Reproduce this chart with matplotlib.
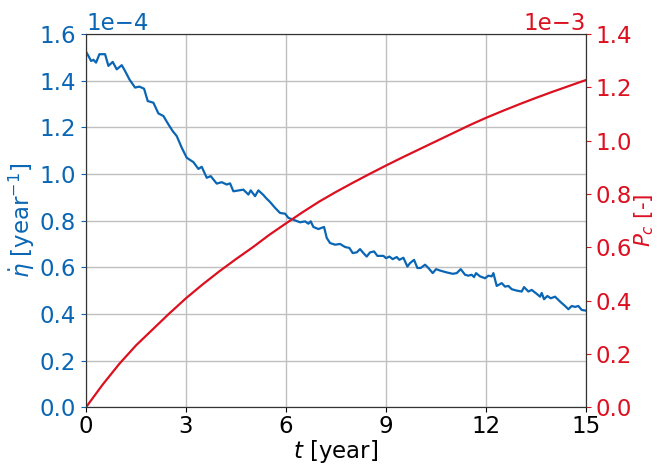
import matplotlib
matplotlib.use("Agg")
import matplotlib.pyplot as plt

# tasa de cambio de eta (en unidades de 1e-4 1/año)
t_eta = [0.00, 0.07, 0.15, 0.22, 0.30, 0.40, 0.57, 0.67, 0.80, 0.92,
         1.07, 1.17, 1.30, 1.47, 1.60, 1.74, 1.85, 2.02, 2.17, 2.32,
         2.47, 2.60, 2.72, 2.87, 3.02, 3.22, 3.37, 3.47, 3.62, 3.74,
         3.92, 4.07, 4.22, 4.32, 4.42, 4.72, 4.87, 4.94, 5.07, 5.17,
         5.32, 5.40, 5.52, 5.67, 5.82, 5.97, 6.07, 6.22, 6.42, 6.57,
         6.67, 6.74, 6.82, 6.97, 7.14, 7.22, 7.32, 7.47, 7.62, 7.77,
         7.90, 8.00, 8.12, 8.22, 8.32, 8.42, 8.52, 8.64, 8.74, 8.92,
         9.00, 9.10, 9.20, 9.32, 9.40, 9.52, 9.64, 9.72, 9.84, 9.94,
         10.04, 10.17, 10.27, 10.40, 10.50, 10.62, 10.82, 11.00, 11.12, 11.24,
         11.37, 11.47, 11.57, 11.64, 11.70, 11.82, 11.97, 12.07, 12.17, 12.22,
         12.32, 12.47, 12.57, 12.67, 12.77, 12.92, 13.07, 13.14, 13.27, 13.37,
         13.52, 13.62, 13.67, 13.74, 13.84, 13.94, 14.07, 14.22, 14.37, 14.47,
         14.57, 14.67, 14.77, 14.87, 15.00]
eta_dot = [1.524, 1.507, 1.485, 1.490, 1.478, 1.514, 1.514, 1.464, 1.481, 1.449,
           1.467, 1.442, 1.406, 1.371, 1.375, 1.366, 1.313, 1.306, 1.260, 1.249,
           1.213, 1.184, 1.163, 1.113, 1.070, 1.051, 1.022, 1.031, 0.984, 0.991,
           0.959, 0.965, 0.955, 0.960, 0.926, 0.933, 0.912, 0.930, 0.905, 0.930,
           0.910, 0.897, 0.880, 0.855, 0.833, 0.830, 0.812, 0.804, 0.793, 0.797,
           0.787, 0.797, 0.773, 0.764, 0.773, 0.726, 0.704, 0.697, 0.700, 0.687,
           0.683, 0.661, 0.664, 0.678, 0.661, 0.646, 0.664, 0.668, 0.649, 0.649,
           0.639, 0.646, 0.635, 0.644, 0.632, 0.641, 0.603, 0.618, 0.632, 0.597,
           0.597, 0.611, 0.597, 0.575, 0.592, 0.586, 0.578, 0.572, 0.575, 0.592,
           0.568, 0.564, 0.568, 0.558, 0.575, 0.561, 0.553, 0.564, 0.561, 0.575,
           0.520, 0.532, 0.517, 0.520, 0.506, 0.500, 0.496, 0.515, 0.496, 0.503,
           0.486, 0.474, 0.490, 0.463, 0.477, 0.467, 0.474, 0.453, 0.434, 0.420,
           0.434, 0.430, 0.434, 0.417, 0.414]

# probabilidad acumulada P_c (en unidades de 1e-3)
t_pc = [0.0, 0.5, 1.0, 1.5, 2.0, 2.5, 3.0, 3.5, 4.0, 4.5, 5.0,
        5.5, 6.0, 6.5, 7.0, 7.5, 8.0, 8.5, 9.0, 9.5, 10.0,
        10.5, 11.0, 11.5, 12.0, 12.5, 13.0, 13.5, 14.0, 14.5, 15.0]
p_c = [0.0, 0.085, 0.163, 0.232, 0.292, 0.352, 0.409, 0.461, 0.510, 0.556, 0.600,
       0.647, 0.690, 0.732, 0.772, 0.808, 0.842, 0.875, 0.907, 0.938, 0.968,
       0.998, 1.028, 1.058, 1.086, 1.112, 1.137, 1.161, 1.184, 1.206, 1.228]

x_ticks = [0, 3, 6, 9, 12, 15]
eta_ticks = [0.0, 0.2, 0.4, 0.6, 0.8, 1.0, 1.2, 1.4, 1.6]
pc_ticks = [0.0, 0.2, 0.4, 0.6, 0.8, 1.0, 1.2, 1.4]

azul = "#0a66b4"
rojo = "#dd1020"

plt.rcParams["font.size"] = 16.5
plt.rcParams["mathtext.fontset"] = "dejavusans"

fig, ax = plt.subplots(figsize=(6.57, 4.68), dpi=100)
fig.subplots_adjust(left=0.131, right=0.892, bottom=0.130, top=0.927)

ax.plot(t_eta, [v * 1e-4 for v in eta_dot], color=azul, lw=1.6)
ax.set_xlim(0, 15)
ax.set_ylim(0, 1.6e-4)
ax.set_xticks(x_ticks)
ax.set_yticks([v * 1e-4 for v in eta_ticks])
ax.ticklabel_format(style="sci", axis="y", scilimits=(0, 0))
ax.grid(True, color="#c0c0c0", lw=1)
ax.set_axisbelow(True)
ax.set_xlabel(r"$t$ [year]", labelpad=0)
ax.set_ylabel(r"$\dot{\eta}$ [year$^{-1}$]", color=azul, labelpad=2)
ax.tick_params(axis="y", colors=azul)
ax.tick_params(axis="x", pad=2)
ax.yaxis.get_offset_text().set_color(azul)

ax2 = ax.twinx()
ax2.plot(t_pc, [v * 1e-3 for v in p_c], color=rojo, lw=1.6)
ax2.set_ylim(0, 1.4e-3)
ax2.set_yticks([v * 1e-3 for v in pc_ticks])
ax2.ticklabel_format(style="sci", axis="y", scilimits=(0, 0))
ax2.set_ylabel(r"$P_c$ [-]", color=rojo, labelpad=0, fontsize=15.5)
ax2.tick_params(axis="y", colors=rojo)
ax2.yaxis.get_offset_text().set_color(rojo)

for a in (ax, ax2):
    for s in a.spines.values():
        s.set_color("#333333")

fig.savefig("out.png", dpi=100)
